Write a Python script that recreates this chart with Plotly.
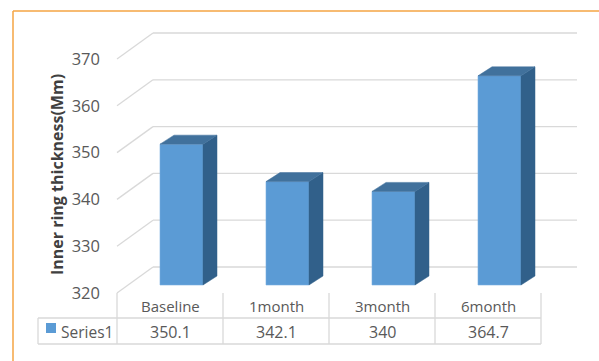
import plotly.graph_objects as go

# ---- data ----
categories = ["Baseline", "1month", "3month", "6month"]
values = [350.1, 342.1, 340, 364.7]
value_labels = ["350.1", "342.1", "340", "364.7"]
series_name = "Series1"
y_ticks = [320, 330, 340, 350, 360, 370]
y_title = "Inner ring thickness(Mm)"

# ---- styling / projection constants ----
W, H = 599, 361
X0, PPC = 170.0, 106.0      # px of category 0 (front plane), px per category
Y0, PPU = 293.0, 4.68       # px of value 320 (front plane), px per value unit
VMIN = 320
WALL_DX, WALL_DY = 36 / PPC, 26 / PPU          # wall depth offset (data units)
BAR_FX, BAR_FY = 11.5 / PPC, 8 / PPU           # bar front face depth offset
BAR_SX, BAR_SY = 14 / PPC, 9 / PPU             # bar depth
BAR_W = 43 / PPC

FRONT = "#5b9bd5"
TOP = "#41719c"
SIDE = "#31608a"
GRID = "#d9d9d9"
TXT = "#595959"
FONT = "Open Sans"


def px2x(px):
    return (px - X0) / PPC


def px2y(py):
    return VMIN + (Y0 - py) / PPU


fig = go.Figure()
shapes = []
n = len(categories)

# back-wall gridlines with left-wall diagonals (below the bars)
for v in y_ticks:
    x_a, y_a = -0.5, v
    x_b, y_b = -0.5 + WALL_DX, v + WALL_DY
    x_c = n - 0.5 + WALL_DX
    shapes.append(dict(type="line", xref="x", yref="y", x0=x_a, y0=y_a, x1=x_b, y1=y_b,
                       layer="below", line=dict(color=GRID, width=1.3)))
    shapes.append(dict(type="line", xref="x", yref="y", x0=x_b, y0=y_b, x1=x_c, y1=y_b,
                       layer="below", line=dict(color=GRID, width=1.3)))

# bars: front face via bar trace
bx = [i + BAR_FX for i in range(n)]
base = VMIN + BAR_FY
fig.add_trace(go.Bar(x=bx, y=[v - VMIN for v in values], base=base,
                     width=BAR_W, marker=dict(color=FRONT, line=dict(color="#7aaee0", width=0.6)),
                     name=series_name, showlegend=False, hoverinfo="skip"))

# side and top faces
for i, v in enumerate(values):
    xl = bx[i] - BAR_W / 2
    xr = bx[i] + BAR_W / 2
    top = v + BAR_FY
    fig.add_trace(go.Scatter(
        x=[xr, xr + BAR_SX, xr + BAR_SX, xr, xr],
        y=[base, base + BAR_SY, top + BAR_SY, top, base],
        mode="lines", fill="toself", fillcolor=SIDE,
        line=dict(color=SIDE, width=0.5), hoverinfo="skip", showlegend=False))
    fig.add_trace(go.Scatter(
        x=[xl, xl + BAR_SX, xr + BAR_SX, xr, xl],
        y=[top, top + BAR_SY, top + BAR_SY, top, top],
        mode="lines", fill="toself", fillcolor=TOP,
        line=dict(color=TOP, width=0.5), hoverinfo="skip", showlegend=False))

# ---- data table below plot ----
y_hdr_top, y_mid, y_bot = 293, 318, 344
tl = 38
def hline(x0, x1, py):
    shapes.append(dict(type="line", xref="x", yref="y", x0=x0, x1=x1,
                       y0=px2y(py), y1=px2y(py), line=dict(color=GRID, width=1.3)))
def vline(x, py0, py1):
    shapes.append(dict(type="line", xref="x", yref="y", x0=x, x1=x,
                       y0=px2y(py0), y1=px2y(py1), line=dict(color=GRID, width=1.3)))

hline(px2x(tl), n - 0.5, y_mid)
hline(px2x(tl), n - 0.5, y_bot)
vline(px2x(tl), y_mid, y_bot)
for i in range(n + 1):
    vline(i - 0.5, y_hdr_top, y_bot)

# orange frame
shapes.append(dict(type="line", xref="paper", yref="paper", x0=13 / W, x1=1,
                   y0=1 - 11 / H, y1=1 - 11 / H, line=dict(color="#f5a443", width=1.5)))
shapes.append(dict(type="line", xref="paper", yref="paper", x0=13 / W, x1=13 / W,
                   y0=0, y1=1 - 11 / H, line=dict(color="#f5a443", width=1.5)))

annotations = []
for i, c in enumerate(categories):
    annotations.append(dict(x=i, y=px2y(306), text=c, showarrow=False,
                            font=dict(family=FONT, size=15, color=TXT)))
    annotations.append(dict(x=i, y=px2y(331.5), text=value_labels[i], showarrow=False,
                            font=dict(family=FONT, size=16, color=TXT)))
# legend key cell
annotations.append(dict(x=px2x(59), y=px2y(331.5), text=series_name, showarrow=False,
                        xanchor="left", font=dict(family=FONT, size=15.5, color=TXT)))
shapes.append(dict(type="rect", xref="x", yref="y", x0=px2x(46), x1=px2x(56),
                   y0=px2y(333), y1=px2y(323), fillcolor=FRONT, line=dict(width=0)))

# y axis title
annotations.append(dict(xref="paper", yref="paper", x=57 / W, y=1 - 175 / H,
                        xanchor="center", yanchor="middle",
                        text="<b>" + y_title + "</b>", textangle=-90, showarrow=False,
                        font=dict(family=FONT, size=16, color="#404040")))

fig.update_layout(
    width=W, height=H, margin=dict(l=0, r=0, t=0, b=0),
    paper_bgcolor="white", plot_bgcolor="white",
    shapes=shapes, annotations=annotations, showlegend=False, hovermode=False,
    xaxis=dict(range=[px2x(0), px2x(W)], visible=False, fixedrange=True),
    yaxis=dict(range=[px2y(H), px2y(0)], anchor="free", position=100 / W,
               tickvals=y_ticks, ticktext=[str(t) for t in y_ticks],
               showgrid=False, zeroline=False, showline=False, ticks="",
               tickfont=dict(family=FONT, size=16.5, color=TXT), fixedrange=True),
)

fig.write_html("out.html", config={"displayModeBar": False})
